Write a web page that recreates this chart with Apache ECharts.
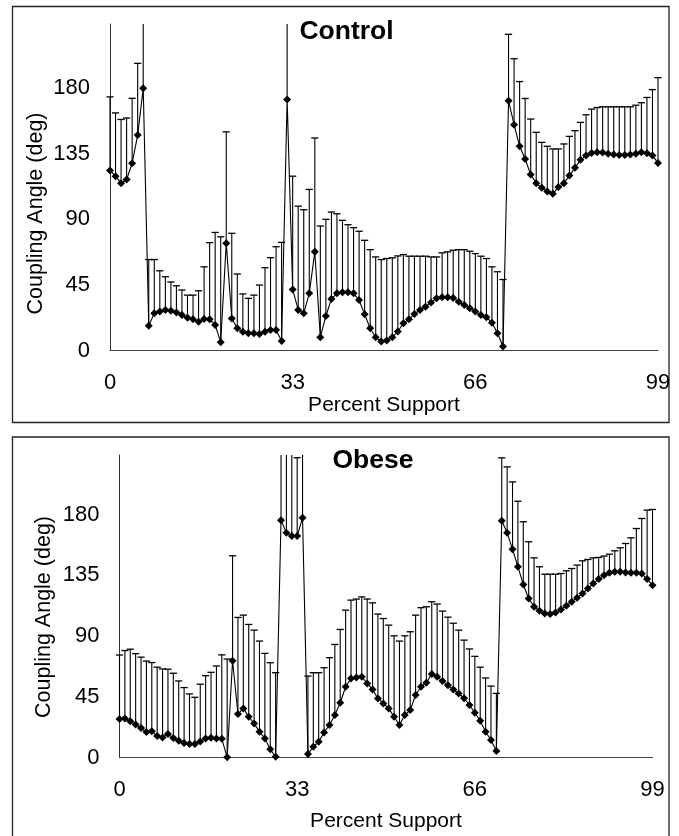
<!DOCTYPE html>
<html>
<head>
<meta charset="utf-8">
<script src="https://cdn.jsdelivr.net/npm/echarts@6/dist/echarts.min.js"></script>
<style>
html,body{margin:0;padding:0;background:#fff;}
#chart{width:679px;height:836px;}
</style>
</head>
<body>
<div id="chart"></div>
<script>
// ---- Data ----
var percentSupport = [];
for (var k = 0; k <= 99; k++) percentSupport.push(k);

var xTickLabels = [0, 33, 66, 99];
var yTickLabels = [0, 45, 90, 135, 180];
var yMax = 224;

// Control group: mean coupling angle (deg)
var controlMean = [
  123.5, 119.6, 114.8, 117.3, 128.5, 147.8, 180,
  16.9, 25.5, 26.7, 27.8, 27.3, 26, 24.4, 22.5, 21.4, 19.8, 21.6, 21.4, 17.5, 5.7,
  73.5, 22, 15.2, 12.9, 11.8, 11.8, 11.4, 12.9, 14, 14, 6.5,
  172.2, 41.9, 27.8, 25.5, 39.2, 67.7, 9.1, 23.7, 35.3, 39.2, 39.9, 39.9, 39.2, 34.6, 24.8, 15.3, 9.1, 6.2, 6.8, 9.1, 13, 18.7, 21.4, 25, 27.8, 30, 33, 35.8, 36.5, 36.5, 36,
  33.5, 31.2, 29, 26.7, 24.4, 22.8, 19.1, 11.8, 2.7,
  171.3, 154.9, 140.1, 131.4, 120.7, 114.8, 111.6, 109.1, 107.5, 112.1, 114.8, 120, 125.3, 130.8, 133.7, 135.5, 136, 135.8, 134.9, 134.4, 134.2, 134.2, 134.4, 134.9, 136, 135.3, 133.7, 128.7
];
// Control group: mean + SD (top of error bar)
var controlUpper = [
  174, 163, 158.5, 159.5, 173, 197, 260,
  62.4, 62.4, 54.7, 50.6, 47, 44.4, 41.5, 38, 38, 41, 57.4, 74, 81, 78,
  150, 80.4, 52.5, 38.8, 35.8, 38, 44.9, 56.8, 63.7, 71.2, 74.2,
  260, 119.6, 99, 96.6, 110.5, 145.8, 85.4, 90, 95, 93.8, 89.3, 86.3, 84.3, 81.8, 75.6, 69.2, 64.2, 62.4, 63.1, 63.6, 64.9, 65.8, 64.7, 64.7, 64.7, 64.7, 64.2, 64.2, 67, 67.7, 68.8,
  69.2, 69.2, 68.1, 66.5, 64.7, 63.1, 57.4, 54, 48.7,
  216.9, 200.2, 184.5, 172.9, 158.8, 149.7, 142.8, 140.1, 138.3, 138.3, 141.7, 146.9, 150.8, 156.5, 161.7, 165.6, 166.7, 167.2, 167.2, 167.2, 167.2, 167.2, 167.2, 168.3, 170, 173.6, 179, 187.2
];

// Obese group: mean coupling angle (deg)
var obeseMean = [
  28.7, 29, 27, 24.5, 22, 19, 19.5, 16, 15, 17.5, 14.5, 12.5, 10.8, 10.1, 10.1, 11.9, 14.3, 14.8, 14.3, 14, 0.3,
  71.7, 32.3, 36.5, 30.3, 25.4, 19.2, 14.3, 6.2, 0.7,
  175.8, 166.4, 164, 164, 177.5,
  2.7, 8.1, 11.8, 18.7, 24.2, 31.6, 40.7, 52.5, 58.7, 59.4, 59.9, 55, 50.5, 43.9, 40.2, 36.5, 30.3, 24.2, 31.6, 35.3, 46.4, 52.5, 55.5, 61.9, 59.9, 56.7, 53.7, 50.5, 47.5,
  44, 39, 33.3, 27.4, 19.2, 13.1, 4.9,
  175.3, 166.4, 154.3, 141.3, 128.2, 117.8, 111.7, 108.7, 106.8, 106.3, 107.5, 109.7, 112.4, 115.4, 118.3, 121.5, 125.2, 128.9, 132.2, 135.1, 136.8, 137.6, 137.6, 137.1, 136.8, 136.8, 136.3, 132.2, 127.7
];
// Obese group: mean + SD (top of error bar)
var obeseUpper = [
  76, 79.3, 80.3, 77, 74.4, 71.5, 70.4, 67, 65.7, 65.5, 62.5, 56.8, 51.9, 47.2, 44.7, 54.4, 60.7, 63.2, 67.9, 76.1, 73,
  149.4, 103.8, 105.5, 98.6, 94.4, 86.3, 77.2, 70.3, 62.9,
  260, 260, 260, 222, 260,
  60.4, 62.9, 62.9, 66.6, 74, 83.8, 94.9, 109.2, 116.6, 117.4, 119, 117.4, 114.6, 106.3, 103, 98.1, 90.2, 86.3, 90.2, 93.2, 105.5, 111, 111.7, 115.4, 113.7, 108.5, 104, 99.5, 94.4,
  87, 80.5, 75, 67, 59, 53, 47.6,
  221.9, 215.2, 204.1, 189.8, 174.6, 159.8, 147.9, 141.3, 135.8, 135.8, 135.8, 136.3, 138.3, 140, 142.5, 145.7, 146.7, 147.9, 148.2, 149.2, 150.6, 153.1, 155.3, 158.5, 162.7, 169.6, 177, 183.2, 183.7
];

var panelTitles = ['Control', 'Obese'];
var xAxisTitle = 'Percent Support';
var yAxisTitle = 'Coupling Angle (deg)';

// ---- Chart ----
var FONT = '"Liberation Sans", Arial, Helvetica, sans-serif';
var chart = echarts.init(document.getElementById('chart'), null, {renderer: 'canvas'});

function pairs(xs, ys) { return xs.map(function (x, i) { return [x, ys[i]]; }); }
function triples(xs, a, b) { return xs.map(function (x, i) { return [x, a[i], b[i]]; }); }

// Upward-only error bar; bars that run past the axis top are cut at the plot edge without a cap
function errRender(params, api) {
  var x = api.value(0), m = api.value(1), t = api.value(2);
  var over = t > yMax;
  var p0 = api.coord([x, m]);
  var p1 = api.coord([x, over ? yMax : t]);
  var hw = 3.6;
  var children = [
    {type: 'line', shape: {x1: p0[0], y1: p0[1], x2: p1[0], y2: p1[1]}, style: {stroke: '#000', lineWidth: 1.1}}
  ];
  if (!over) {
    children.push({type: 'line', shape: {x1: p1[0] - hw, y1: p1[1], x2: p1[0] + hw, y2: p1[1]}, style: {stroke: '#000', lineWidth: 1.3}});
  }
  return {type: 'group', children: children};
}

function xAxisCfg(gridIndex, gap) {
  return {
    type: 'value', gridIndex: gridIndex, min: 0, max: 99, interval: 33,
    name: xAxisTitle, nameLocation: 'middle', nameGap: gap,
    nameTextStyle: {fontFamily: FONT, fontSize: 21, color: '#000'},
    axisLine: {show: true, onZero: false, lineStyle: {color: '#444', width: 1}},
    axisTick: {show: false},
    splitLine: {show: false},
    axisLabel: {fontFamily: FONT, fontSize: 22, color: '#000', margin: 21,
      formatter: function (v) { return xTickLabels.indexOf(v) >= 0 ? String(v) : ''; }}
  };
}
function yAxisCfg(gridIndex) {
  return {
    type: 'value', gridIndex: gridIndex, min: 0, max: yMax, interval: 45,
    axisLine: {show: true, lineStyle: {color: '#333', width: 1}},
    axisTick: {show: false},
    splitLine: {show: false},
    axisLabel: {fontFamily: FONT, fontSize: 22, color: '#000', margin: 20,
      formatter: function (v) { return yTickLabels.indexOf(v) >= 0 ? String(v) : ''; }}
  };
}

var option = {
  animation: false,
  backgroundColor: '#fff',
  grid: [
    {left: 110, top: 24, width: 548, height: 326.5},
    {left: 119.5, top: 455, width: 533, height: 302.7}
  ],
  xAxis: [xAxisCfg(0, 43), xAxisCfg(1, 53)],
  yAxis: [yAxisCfg(0), yAxisCfg(1)],
  series: [
    {type: 'custom', name: 'Control SD', xAxisIndex: 0, yAxisIndex: 0, clip: false, z: 1,
      renderItem: errRender, data: triples(percentSupport, controlMean, controlUpper)},
    {type: 'line', name: 'Control', xAxisIndex: 0, yAxisIndex: 0, z: 3,
      symbol: 'diamond', symbolSize: 8, showSymbol: true,
      itemStyle: {color: '#000'}, lineStyle: {color: '#000', width: 1.1},
      data: pairs(percentSupport, controlMean)},
    {type: 'custom', name: 'Obese SD', xAxisIndex: 1, yAxisIndex: 1, clip: false, z: 1,
      renderItem: errRender, data: triples(percentSupport, obeseMean, obeseUpper)},
    {type: 'line', name: 'Obese', xAxisIndex: 1, yAxisIndex: 1, z: 3,
      symbol: 'diamond', symbolSize: 8, showSymbol: true,
      itemStyle: {color: '#000'}, lineStyle: {color: '#000', width: 1.1},
      data: pairs(percentSupport, obeseMean)}
  ],
  graphic: [
    {type: 'rect', shape: {x: 12.5, y: 6.5, width: 656.5, height: 416}, style: {fill: null, stroke: '#222', lineWidth: 1.3}, silent: true},
    {type: 'rect', shape: {x: 12.5, y: 437, width: 656.5, height: 420}, style: {fill: null, stroke: '#222', lineWidth: 1.3}, silent: true},
    {type: 'text', x: 346.5, y: 32, style: {text: panelTitles[0], fontFamily: FONT, fontSize: 26.5, fontWeight: 'bold', fill: '#000', align: 'center', verticalAlign: 'middle'}},
    {type: 'text', x: 373, y: 461, style: {text: panelTitles[1], fontFamily: FONT, fontSize: 26.5, fontWeight: 'bold', fill: '#000', align: 'center', verticalAlign: 'middle'}},
    {type: 'text', x: 36, y: 213.5, rotation: Math.PI / 2, style: {text: yAxisTitle, fontFamily: FONT, fontSize: 21.5, fill: '#000', align: 'center', verticalAlign: 'middle'}},
    {type: 'text', x: 44, y: 617, rotation: Math.PI / 2, style: {text: yAxisTitle, fontFamily: FONT, fontSize: 21.5, fill: '#000', align: 'center', verticalAlign: 'middle'}}
  ]
};
chart.setOption(option);
</script>
</body>
</html>
